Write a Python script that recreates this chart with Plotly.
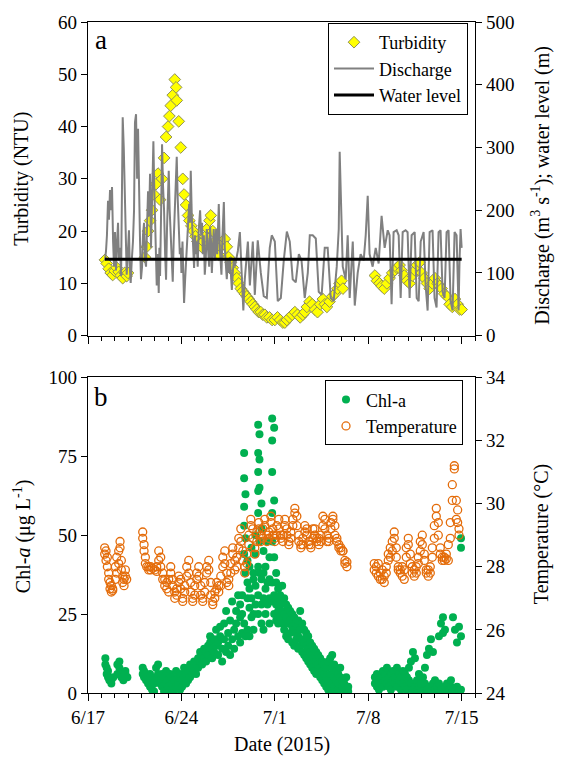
import pandas as pd
import plotly.graph_objects as go

BASE = pd.Timestamp("2015-06-17")

# ---------------- Panel a ----------------
turb_day = [1.27, 1.4, 1.55, 1.7, 1.85, 2.0, 2.15, 2.3, 2.45, 2.6, 2.75, 2.9, 3.0,
            4.27, 4.4, 4.5, 4.65, 4.8, 4.95, 5.1, 5.25, 5.4, 5.55, 5.7, 5.85, 6.0, 6.1, 6.2, 6.35, 6.5, 6.6,
            6.65, 6.8, 6.95, 7.1, 7.2, 7.35, 7.5, 7.6, 7.75, 7.9, 8.05, 8.2, 8.35, 8.5, 8.65, 8.8, 8.95,
            9.1, 9.2, 9.35, 9.5, 9.65, 9.8, 9.95, 10.1, 10.25, 10.4, 10.55, 10.7, 10.85, 11.0, 11.15,
            11.3, 11.45, 11.6, 11.75, 11.9, 12.05, 12.2, 12.35, 12.5, 12.65, 12.8, 12.95, 13.1, 13.25,
            13.4, 13.6, 13.8, 14.0, 14.2, 14.4, 14.6, 14.75, 14.9, 15.1, 15.3, 15.5, 15.7, 15.9, 16.1,
            16.25, 16.4, 16.6, 16.8, 17.0, 17.2, 17.4, 17.6, 17.75, 17.9, 18.1, 18.3, 18.5, 18.7, 18.85,
            19.0, 19.1,
            21.5, 21.65, 21.85, 22.0, 22.2, 22.4, 22.6, 22.8, 23.0, 23.15, 23.35, 23.5, 23.7, 23.9, 24.1,
            24.3, 24.5, 24.65, 24.85, 25.0, 25.2, 25.4, 25.6, 25.8, 26.0, 26.2, 26.35, 26.5, 26.7, 26.9,
            27.1, 27.3, 27.5, 27.7, 27.85, 28.0]
turb_ntu = [14.5, 13.8, 12.8, 12, 11.6, 12.4, 13, 12.2, 11.5, 11, 12, 11.4, 12,
            15, 17, 20, 22, 24, 27, 29, 31, 26, 30, 34, 38, 40, 42, 44, 46, 49, 47.5,
            45, 41, 36, 30, 27, 25, 23, 22, 21, 20, 19, 18, 17.5, 17, 18, 19, 20.5,
            22, 23, 20, 18, 16, 15.5, 17, 18, 18.5, 17, 15, 14, 13, 12, 11,
            10, 9, 8.5, 8, 7.5, 7, 6.5, 6, 5.5, 5, 4.5, 4.5, 4, 4,
            3.5, 3.5, 3, 3, 3.5, 3, 2.5, 2.5, 3, 3.5, 4, 4.5, 4, 3.5, 4,
            4.5, 5.5, 6.5, 6, 5, 4.5, 6, 7, 6, 5.5, 6.5, 7.5, 8, 9, 10,
            10.5, 9,
            11.5, 10.5, 10, 9.5, 9, 10, 11, 12, 12.5, 13, 13.5, 12.5, 11.5, 10.5, 10,
            11.5, 12.5, 13.5, 14, 12, 11, 10, 9, 10, 11, 10, 9.5, 9, 8, 7.5,
            6, 5.5, 7, 6, 5, 5]

dis_day = [1.27, 1.35, 1.42, 1.5, 1.57, 1.65, 1.72, 1.8, 1.88, 1.95, 2.02, 2.1, 2.18, 2.25, 2.32,
           2.4, 2.48, 2.55, 2.6, 2.68, 2.77, 2.83, 2.9, 2.98, 3.07, 3.13, 3.2, 3.28, 3.37, 3.45, 3.52,
           3.6, 3.68, 3.75, 3.82, 3.9, 3.97, 4.05, 4.12, 4.2, 4.28, 4.35, 4.42, 4.5, 4.58, 4.65, 4.72,
           4.8, 4.85, 4.9, 4.95, 5.0, 5.07, 5.15, 5.22, 5.3, 5.35, 5.4, 5.48, 5.55, 5.62, 5.7, 5.78,
           5.85, 5.92, 5.98, 6.05, 6.12, 6.2, 6.28, 6.35, 6.42, 6.5, 6.58, 6.65, 6.72, 6.8, 6.88,
           6.95, 7.0, 7.08, 7.14, 7.2, 7.28, 7.35, 7.42, 7.5, 7.58, 7.64, 7.7, 7.78, 7.85, 7.95, 8.02,
           8.08, 8.15, 8.22, 8.3, 8.4, 8.48, 8.55, 8.6, 8.68, 8.75, 8.82, 8.9, 9.0, 9.08, 9.15, 9.22,
           9.28, 9.35, 9.42, 9.5, 9.55, 9.6, 9.68, 9.74, 9.8, 9.88, 9.94, 10.0, 10.06, 10.12, 10.18,
           10.25, 10.32, 10.4, 10.48, 10.55, 10.63, 10.7, 10.78, 10.85, 10.92, 11.0,
           11.23, 11.38, 11.53, 11.64, 11.75,
           11.98, 12.13, 12.35, 12.5, 12.72, 12.95, 13.17, 13.4, 13.62, 13.77, 14.0, 14.22, 14.45,
           14.67, 14.9, 15.12, 15.34, 15.57, 15.8, 16.0, 16.24, 16.47, 16.62, 16.84, 17.07, 17.29,
           17.51, 17.74, 17.96, 18.19, 18.41, 18.64, 18.79, 18.86, 18.97, 19.09, 19.31, 19.46, 19.61,
           19.84, 19.99, 20.21, 20.43, 20.66, 20.81, 20.96, 21.1, 21.33, 21.56, 21.78, 22.0, 22.23,
           22.46, 22.6, 22.75, 22.9, 23.13, 23.28, 23.43, 23.58, 23.8, 23.95, 24.1, 24.25, 24.48,
           24.63, 24.78, 24.93, 25.15, 25.3, 25.45, 25.6, 25.82, 25.97, 26.12, 26.27, 26.42, 26.57,
           26.72, 26.87, 27.02, 27.17, 27.32, 27.47, 27.62, 27.77, 27.84, 27.92, 28.0]
dis_q = [120, 135, 160, 215, 185, 232, 200, 237, 150, 110, 165, 104, 150, 180, 120,
         140, 95, 260, 348, 300, 200, 140, 97, 130, 168, 110, 84, 120, 150, 200, 340,
         353, 250, 330, 220, 150, 90, 110, 160, 180, 120, 110, 170, 230, 190, 258, 140,
         200, 260, 310, 250, 200, 120, 80, 130, 68, 140, 95, 200, 305, 240, 200, 130,
         89, 170, 210, 263, 200, 150, 110, 86, 150, 200, 240, 285, 220, 180, 130,
         140, 100, 150, 90, 52, 90, 120, 150, 175, 210, 180, 263, 190, 140, 108, 160,
         130, 150, 110, 170, 200, 160, 180, 130, 160, 97, 120, 170, 140, 110, 174, 150,
         100, 130, 170, 120, 150, 170, 130, 180, 210, 140, 110, 97, 150, 180, 213,
         140, 110, 90, 120, 100, 125, 95, 73, 100, 120, 110,
         135, 165, 100, 40, 90,
         150, 80, 150, 65, 152, 100, 63, 60, 140, 160, 150, 55, 60,
         120, 166, 150, 90, 85, 130, 120, 60, 100, 160, 160, 155, 70,
         65, 140, 140, 60, 55, 110, 170, 293, 200, 110, 90, 160, 60,
         150, 48, 100, 130, 120, 160, 223, 130, 110, 140, 115, 191, 140,
         168, 160, 50, 165, 168, 160, 60, 165, 168, 165, 60, 160, 165,
         60, 55, 150, 165, 80, 40, 165, 168, 60, 45, 165, 168, 70,
         60, 165, 168, 55, 40, 165, 160, 40, 120, 170, 140]

wl_day = [1.27, 5.0, 10.0, 15.0, 20.0, 25.0, 28.0]
wl_m = [122, 122, 122, 122, 122, 122, 122]

# ---------------- Panel b ----------------
chl_day = [1.3, 1.4, 1.5, 1.6, 1.75, 1.9, 2.2, 2.35, 2.5, 2.65, 2.8, 2.95,
           4.1, 4.2, 4.35, 4.5, 4.65, 4.8, 4.95, 5.1, 5.25, 5.4, 5.55, 5.7, 5.85, 6.0, 6.15, 6.3,
           6.45, 6.6, 6.75, 6.9, 7.05, 7.2, 7.35, 7.5, 7.65, 7.8, 7.95, 8.1, 8.25, 8.4, 8.55, 8.7,
           8.85, 9.0, 9.15, 9.3, 9.45, 9.6, 9.75, 9.9, 10.05, 10.2, 10.35, 10.5, 10.65, 10.8, 10.95,
           11.1, 11.25, 11.4, 11.55, 11.7, 11.8, 11.95, 12.1, 12.25, 12.4, 12.55, 12.75, 12.85, 13.0,
           13.15, 13.3, 13.45, 13.6, 13.8, 13.95, 14.1, 14.25, 14.4, 14.55, 14.7, 14.85, 15.0, 15.15,
           15.3, 15.45, 15.6, 15.75, 15.9, 16.05, 16.2, 16.35, 16.5, 16.65, 16.8, 16.95, 17.1, 17.25,
           17.4, 17.55, 17.7, 17.85, 18.0, 18.15, 18.3, 18.45, 18.6, 18.75, 18.9, 19.05, 19.2, 19.35,
           19.5,
           21.5, 21.65, 21.8, 21.95, 22.1, 22.25, 22.4, 22.55, 22.7, 22.85, 23.0, 23.15, 23.3, 23.45,
           23.6, 23.75, 23.9, 24.05, 24.2, 24.35, 24.5, 24.65, 24.8, 24.95, 25.1, 25.25, 25.4, 25.55,
           25.7, 25.85, 26.0, 26.15, 26.3, 26.45, 26.6, 26.75, 26.9, 27.05, 27.2, 27.35, 27.5, 27.65,
           27.8, 27.95]
chl_val = [[9, 11], [8, 6], [5, 7], [4, 5], [4, 3], [5], [6, 9], [10, 8], [6, 5], [4, 5], [7, 6], [5],
           [8, 6], [7, 5], [4, 6], [3, 5], [2, 6], [4, 1], [0.5, 3], [8, 5], [9, 6], [4, 3], [2, 6],
           [5, 0.5], [3, 7], [4, 2], [6, 1], [3, 5], [1, 4], [7, 2], [3, 5], [1, 6], [2, 4], [5, 8],
           [3, 6], [4, 7], [9, 5], [6, 8], [7, 10], [9, 6], [11, 8], [10, 13], [12, 9], [14, 11],
           [10, 13], [15, 12], [16, 18], [14, 11], [13, 17], [20, 15], [12, 16], [18, 21], [14, 10],
           [17, 22], [26, 13], [19, 15], [12, 23], [17, 29], [20, 14], [22, 26], [18, 31],
           [16, 24, 28], [19, 25, 31], [22, 44, 53, 59, 68, 76], [18, 38, 49, 63], [20, 30, 35, 42],
           [18, 27, 33, 40], [24, 30, 46], [20, 25, 36, 38], [28, 34, 44, 50],
           [25, 31, 40, 57, 64, 70, 76, 85], [38, 48, 65, 74, 82], [22, 28, 36, 52, 60],
           [20, 30, 38, 45], [25, 33, 40], [28, 35, 48], [22, 30, 36, 43],
           [29, 35, 48, 57, 70, 80, 87], [25, 31, 43, 61, 84], [23, 28, 35, 38], [22, 26, 33, 30],
           [24, 31, 28], [22, 26, 34], [20, 25, 30], [18, 24, 28], [17, 22, 27], [19, 23, 26],
           [16, 21, 25], [15, 20, 24], [17, 22, 19], [14, 18, 23], [15, 20, 26], [13, 17, 22],
           [12, 16, 20], [11, 15, 19], [10, 14, 18], [9, 13, 16], [8, 12, 15], [7, 11, 14],
           [6, 10, 13], [6, 9, 12], [5, 8, 11], [4, 7, 10], [3, 6, 9], [2, 5, 8], [1, 4, 10],
           [0.5, 6, 11], [3, 8, 12], [2, 5, 9], [0.5, 4, 7], [1, 3, 6], [0.5, 5, 8], [2, 4],
           [0.5, 3], [1, 5], [0.5, 2],
           [3, 5], [2, 6], [4, 1], [5, 3], [7, 2], [4, 6], [3, 8], [5, 2], [6, 1], [4, 7], [3, 5],
           [8, 2], [6, 4], [1, 5], [3, 7], [2, 6], [5, 1], [4, 8], [10, 3], [13, 1], [11, 2],
           [0.5, 4], [2, 6], [1, 3], [5, 0.5], [3, 8], [12, 1], [14, 2], [17, 0.5], [13, 3], [1, 4],
           [0.5, 2], [18, 3], [22, 1], [24, 19], [20, 2], [0.5, 3], [1, 0.5], [2, 4], [24, 1],
           [20, 0.5], [16, 2], [21, 1, 0.5], [18, 46, 49, 1]]

temp_day = [1.25, 1.35, 1.45, 1.55, 1.65, 1.75, 1.85, 2.05, 2.15, 2.3, 2.4, 2.5, 2.6, 2.7, 2.8, 2.9,
            4.1, 4.2, 4.3, 4.4, 4.55, 4.7, 4.85, 5.0, 5.15, 5.3, 5.45, 5.6, 5.75, 5.9, 6.05, 6.2,
            6.35, 6.5, 6.65, 6.8, 6.95, 7.1, 7.25, 7.4, 7.55, 7.7, 7.85, 8.0, 8.15, 8.3, 8.45, 8.6,
            8.75, 8.9, 9.05, 9.2, 9.35, 9.5, 9.65, 9.8, 9.95, 10.1, 10.25, 10.4, 10.55, 10.7, 10.85,
            11.0, 11.15, 11.3, 11.45, 11.6, 11.75, 11.9, 12.05, 12.2, 12.35, 12.5, 12.65, 12.8, 12.95,
            13.1, 13.25, 13.4, 13.55, 13.7, 13.85, 14.0, 14.15, 14.3, 14.45, 14.6, 14.75, 14.9, 15.05,
            15.2, 15.35, 15.5, 15.65, 15.8, 15.95, 16.1, 16.25, 16.4, 16.55, 16.7, 16.85, 17.0, 17.15,
            17.3, 17.45, 17.6, 17.75, 17.9, 18.05, 18.2, 18.35, 18.5, 18.65, 18.8, 18.95, 19.1, 19.25,
            19.4,
            21.45, 21.6, 21.75, 21.9, 22.05, 22.2, 22.35, 22.5, 22.65, 22.8, 22.95, 23.1, 23.25, 23.4,
            23.55, 23.7, 23.85, 24.0, 24.15, 24.3, 24.45, 24.6, 24.75, 24.9, 25.05, 25.2, 25.35, 25.5,
            25.65, 25.8, 25.95, 26.1, 26.25, 26.4, 26.55, 26.7, 26.85, 27.0, 27.15, 27.3, 27.45, 27.6,
            27.7, 27.8, 27.9, 28.0]
temp_val = [[28.4, 28.6], [28.5, 28.2], [28.0, 28.3], [27.8, 27.6], [27.5, 27.3], [27.2, 27.4],
            [27.3, 27.25], [27.6, 28.0], [28.3, 27.8], [28.5, 28.1], [28.8, 28.6], [28.2, 27.9],
            [27.7, 27.5], [27.4, 27.6], [27.9, 27.7], [27.6],
            [29.1, 28.9], [28.7, 28.5], [28.3, 28.1], [28.0], [27.9, 28.0], [27.9, 28.0], [27.95],
            [27.9], [28.0, 27.85], [28.2, 28.5], [28.3, 28.0], [27.8, 27.6], [27.4, 27.6],
            [27.3, 27.5], [27.6, 27.2], [27.8, 28.0], [27.6, 27.4], [27.2, 27.0], [27.1, 27.3],
            [27.5, 27.7], [27.6, 27.3], [27.0, 26.9], [27.2, 27.4], [27.7, 28.0], [28.2, 27.8],
            [27.5, 27.2], [27.0, 26.9], [27.1, 27.4], [27.6, 27.8], [28.0, 27.7], [27.4, 27.1],
            [26.9, 27.0], [27.2, 27.5], [27.8, 28.0], [28.2, 27.9], [27.5, 27.1], [26.9, 26.8],
            [27.0, 27.2], [27.3, 27.5], [27.4, 27.2], [27.4, 27.7], [28.0, 28.3], [28.5, 28.1],
            [27.8, 27.5], [27.4, 27.6], [27.8, 28.1], [28.4, 28.6], [28.2, 27.9], [28.0, 28.3],
            [28.6, 28.9], [29.2, 28.8], [28.5, 28.2], [28.0, 27.8], [28.1, 28.4], [28.7, 29.0],
            [29.3, 29.5], [29.2, 28.9], [28.6, 28.4], [28.8, 29.1], [29.4, 29.2], [29.0, 28.8],
            [28.9, 29.2], [29.5, 29.3], [29.0, 28.8], [28.9, 29.1], [29.4, 29.6], [29.2, 29.0],
            [28.9, 28.8], [29.0, 29.3], [29.5, 29.2], [29.0, 28.9], [28.8, 29.0], [29.3, 29.5],
            [29.2, 29.0], [28.8, 28.7], [28.9, 29.1], [29.3, 29.5], [29.7, 29.85], [29.6, 29.3],
            [29.0, 28.8], [28.7, 28.6], [28.7, 28.9], [29.1, 29.3], [29.2, 29.0], [28.8, 28.7],
            [28.6, 28.7], [28.9, 29.2], [29.2, 29.0], [28.9, 28.8], [28.9, 28.7], [28.8, 29.0],
            [29.3, 29.6], [29.5, 29.2], [29.0, 28.8], [28.8, 28.9], [29.2, 29.4], [29.6, 29.5],
            [29.3, 29.0], [28.9, 28.8], [28.7, 28.6], [28.6, 28.5], [28.5, 28.5],
            [28.2, 28.1], [28.0, 28.15], [27.9, 28.1], [27.8, 28.0], [28.1, 27.7], [27.6, 27.8],
            [27.9, 27.6], [27.5, 27.7], [27.8, 28.0], [28.2, 28.4], [28.6, 28.3], [28.8, 28.5],
            [29.1, 28.9], [28.6, 28.3], [28.0, 27.9], [27.8, 27.9], [28.0, 27.7], [27.6, 27.9],
            [28.3, 28.6], [28.9, 28.7], [28.4, 28.1], [28.0, 27.8], [27.7, 27.9], [27.8, 28.0],
            [28.3, 28.1], [28.5, 28.8], [29.0, 28.7], [28.4, 28.2], [27.9, 27.8], [27.7, 27.9],
            [27.8, 28.0], [28.3, 28.6], [28.9, 29.3], [29.6, 29.85], [29.4, 29.0], [28.6, 28.4],
            [28.3, 28.2], [28.2, 28.3], [28.25, 28.4], [28.7, 28.2], [28.9, 29.4], [30.1, 30.6],
            [31.2, 31.1], [30.1, 29.5], [29.8, 29.4], [29.0, 29.2]]

x_ticks = ["2015-06-17", "2015-06-24", "2015-07-01", "2015-07-08", "2015-07-15"]
x_ticktext = ["6/17", "6/24", "7/1", "7/8", "7/15"]


def to_dates(days):
    return BASE + pd.to_timedelta(pd.Series(days, dtype=float), unit="D")


def expand(days, groups):
    xs, ys = [], []
    for d, vals in zip(days, groups):
        for v in vals:
            xs.append(d)
            ys.append(v)
    return xs, ys


chl_x, chl_y = expand(chl_day, chl_val)
tmp_x, tmp_y = expand(temp_day, temp_val)

FONT = "Liberation Serif, Times New Roman, serif"
fig = go.Figure()

fig.add_trace(go.Scatter(
    x=to_dates(turb_day), y=turb_ntu, mode="markers", name="Turbidity",
    marker=dict(symbol="diamond", size=9, color="#ffff00", line=dict(color="#8f8f58", width=1)),
    xaxis="x", yaxis="y", legend="legend"))
fig.add_trace(go.Scatter(
    x=to_dates(dis_day), y=dis_q, mode="lines", name="Discharge",
    line=dict(color="#808080", width=2), xaxis="x", yaxis="y2", legend="legend"))
fig.add_trace(go.Scatter(
    x=to_dates(wl_day), y=wl_m, mode="lines", name="Water level",
    line=dict(color="#000000", width=3), xaxis="x", yaxis="y2", legend="legend"))

fig.add_trace(go.Scatter(
    x=to_dates(chl_x), y=chl_y, mode="markers", name="Chl-a",
    marker=dict(symbol="circle", size=8, color="#00b050"),
    xaxis="x2", yaxis="y3", legend="legend2"))
fig.add_trace(go.Scatter(
    x=to_dates(tmp_x), y=tmp_y, mode="markers", name="Temperature",
    marker=dict(symbol="circle-open", size=8, color="#e46c0a", line=dict(width=1.3)),
    xaxis="x2", yaxis="y4", legend="legend2"))

xcommon = dict(
    type="date", range=["2015-06-17", "2015-07-16"], tickmode="array",
    tickvals=x_ticks, ticktext=x_ticktext, ticks="outside", ticklen=7, tickwidth=1.2,
    tickcolor="black", showline=True, linecolor="black", linewidth=1.2, mirror=True,
    showgrid=False, zeroline=False,
    minor=dict(dtick=86400000, tick0="2015-06-17", ticks="outside", ticklen=4,
               tickwidth=1, tickcolor="black", showgrid=False),
    tickfont=dict(family=FONT, size=19, color="black"))

ycommon = dict(ticks="outside", ticklen=6, tickwidth=1.2, tickcolor="black", showline=True,
               linecolor="black", linewidth=1.2, showgrid=False, zeroline=False,
               tickfont=dict(family=FONT, size=19, color="black"))

dom_a = [1 - 316 / 676, 1]
dom_b = [0, 318 / 676]

fig.update_layout(
    width=563, height=761,
    margin=dict(l=88, r=88, t=17, b=68),
    paper_bgcolor="white", plot_bgcolor="white",
    font=dict(family=FONT, size=19, color="black"),
    xaxis=dict(**xcommon, anchor="y", showticklabels=False),
    xaxis2=dict(**xcommon, anchor="y3", matches="x"),
    yaxis=dict(**ycommon, domain=dom_a, range=[0, 60], dtick=10, anchor="x"),
    yaxis2=dict(**ycommon, overlaying="y", side="right", range=[0, 500], dtick=100, anchor="x"),
    yaxis3=dict(**ycommon, domain=dom_b, range=[0, 100], dtick=25, anchor="x2"),
    yaxis4=dict(**ycommon, overlaying="y3", side="right", range=[24, 34], dtick=2, anchor="x2"),
    legend=dict(x=(468 - 88) / 387, y=(693 - 18) / 676, xanchor="right", yanchor="top",
                bgcolor="white", bordercolor="black", borderwidth=1,
                font=dict(family=FONT, size=18, color="black"), itemwidth=40,
                tracegroupgap=0),
    legend2=dict(x=(463 - 88) / 387, y=(693 - 378) / 676, xanchor="right", yanchor="top",
                 bgcolor="white", bordercolor="black", borderwidth=1,
                 font=dict(family=FONT, size=18, color="black"), itemwidth=30),
    showlegend=True,
)

ann = [
    dict(text="a", x=(101 - 88) / 387, y=(693 - 35) / 676, font_size=27),
    dict(text="b", x=(101 - 88) / 387, y=(693 - 395) / 676, font_size=27),
    dict(text="Turbidity (NTU)", x=(22 - 88) / 387, y=(693 - 175) / 676, textangle=-90),
    dict(text="Chl-<i>a</i> (μg L<sup>-1</sup>)", x=(22 - 88) / 387, y=(693 - 535) / 676,
         textangle=-90),
    dict(text="Discharge (m<sup>3</sup> s<sup>-1</sup>); water level (m)", x=(541 - 88) / 387,
         y=(693 - 182) / 676, textangle=-90),
    dict(text="Temperature (°C)", x=(541 - 88) / 387, y=(693 - 533) / 676, textangle=-90),
    dict(text="Date (2015)", x=(282 - 88) / 387, y=(693 - 745) / 676),
]
for a in ann:
    fs = a.pop("font_size", 20)
    fig.add_annotation(xref="paper", yref="paper", showarrow=False, xanchor="center",
                       yanchor="middle", font=dict(family=FONT, size=fs, color="black"), **a)

fig.write_html("out.html")
